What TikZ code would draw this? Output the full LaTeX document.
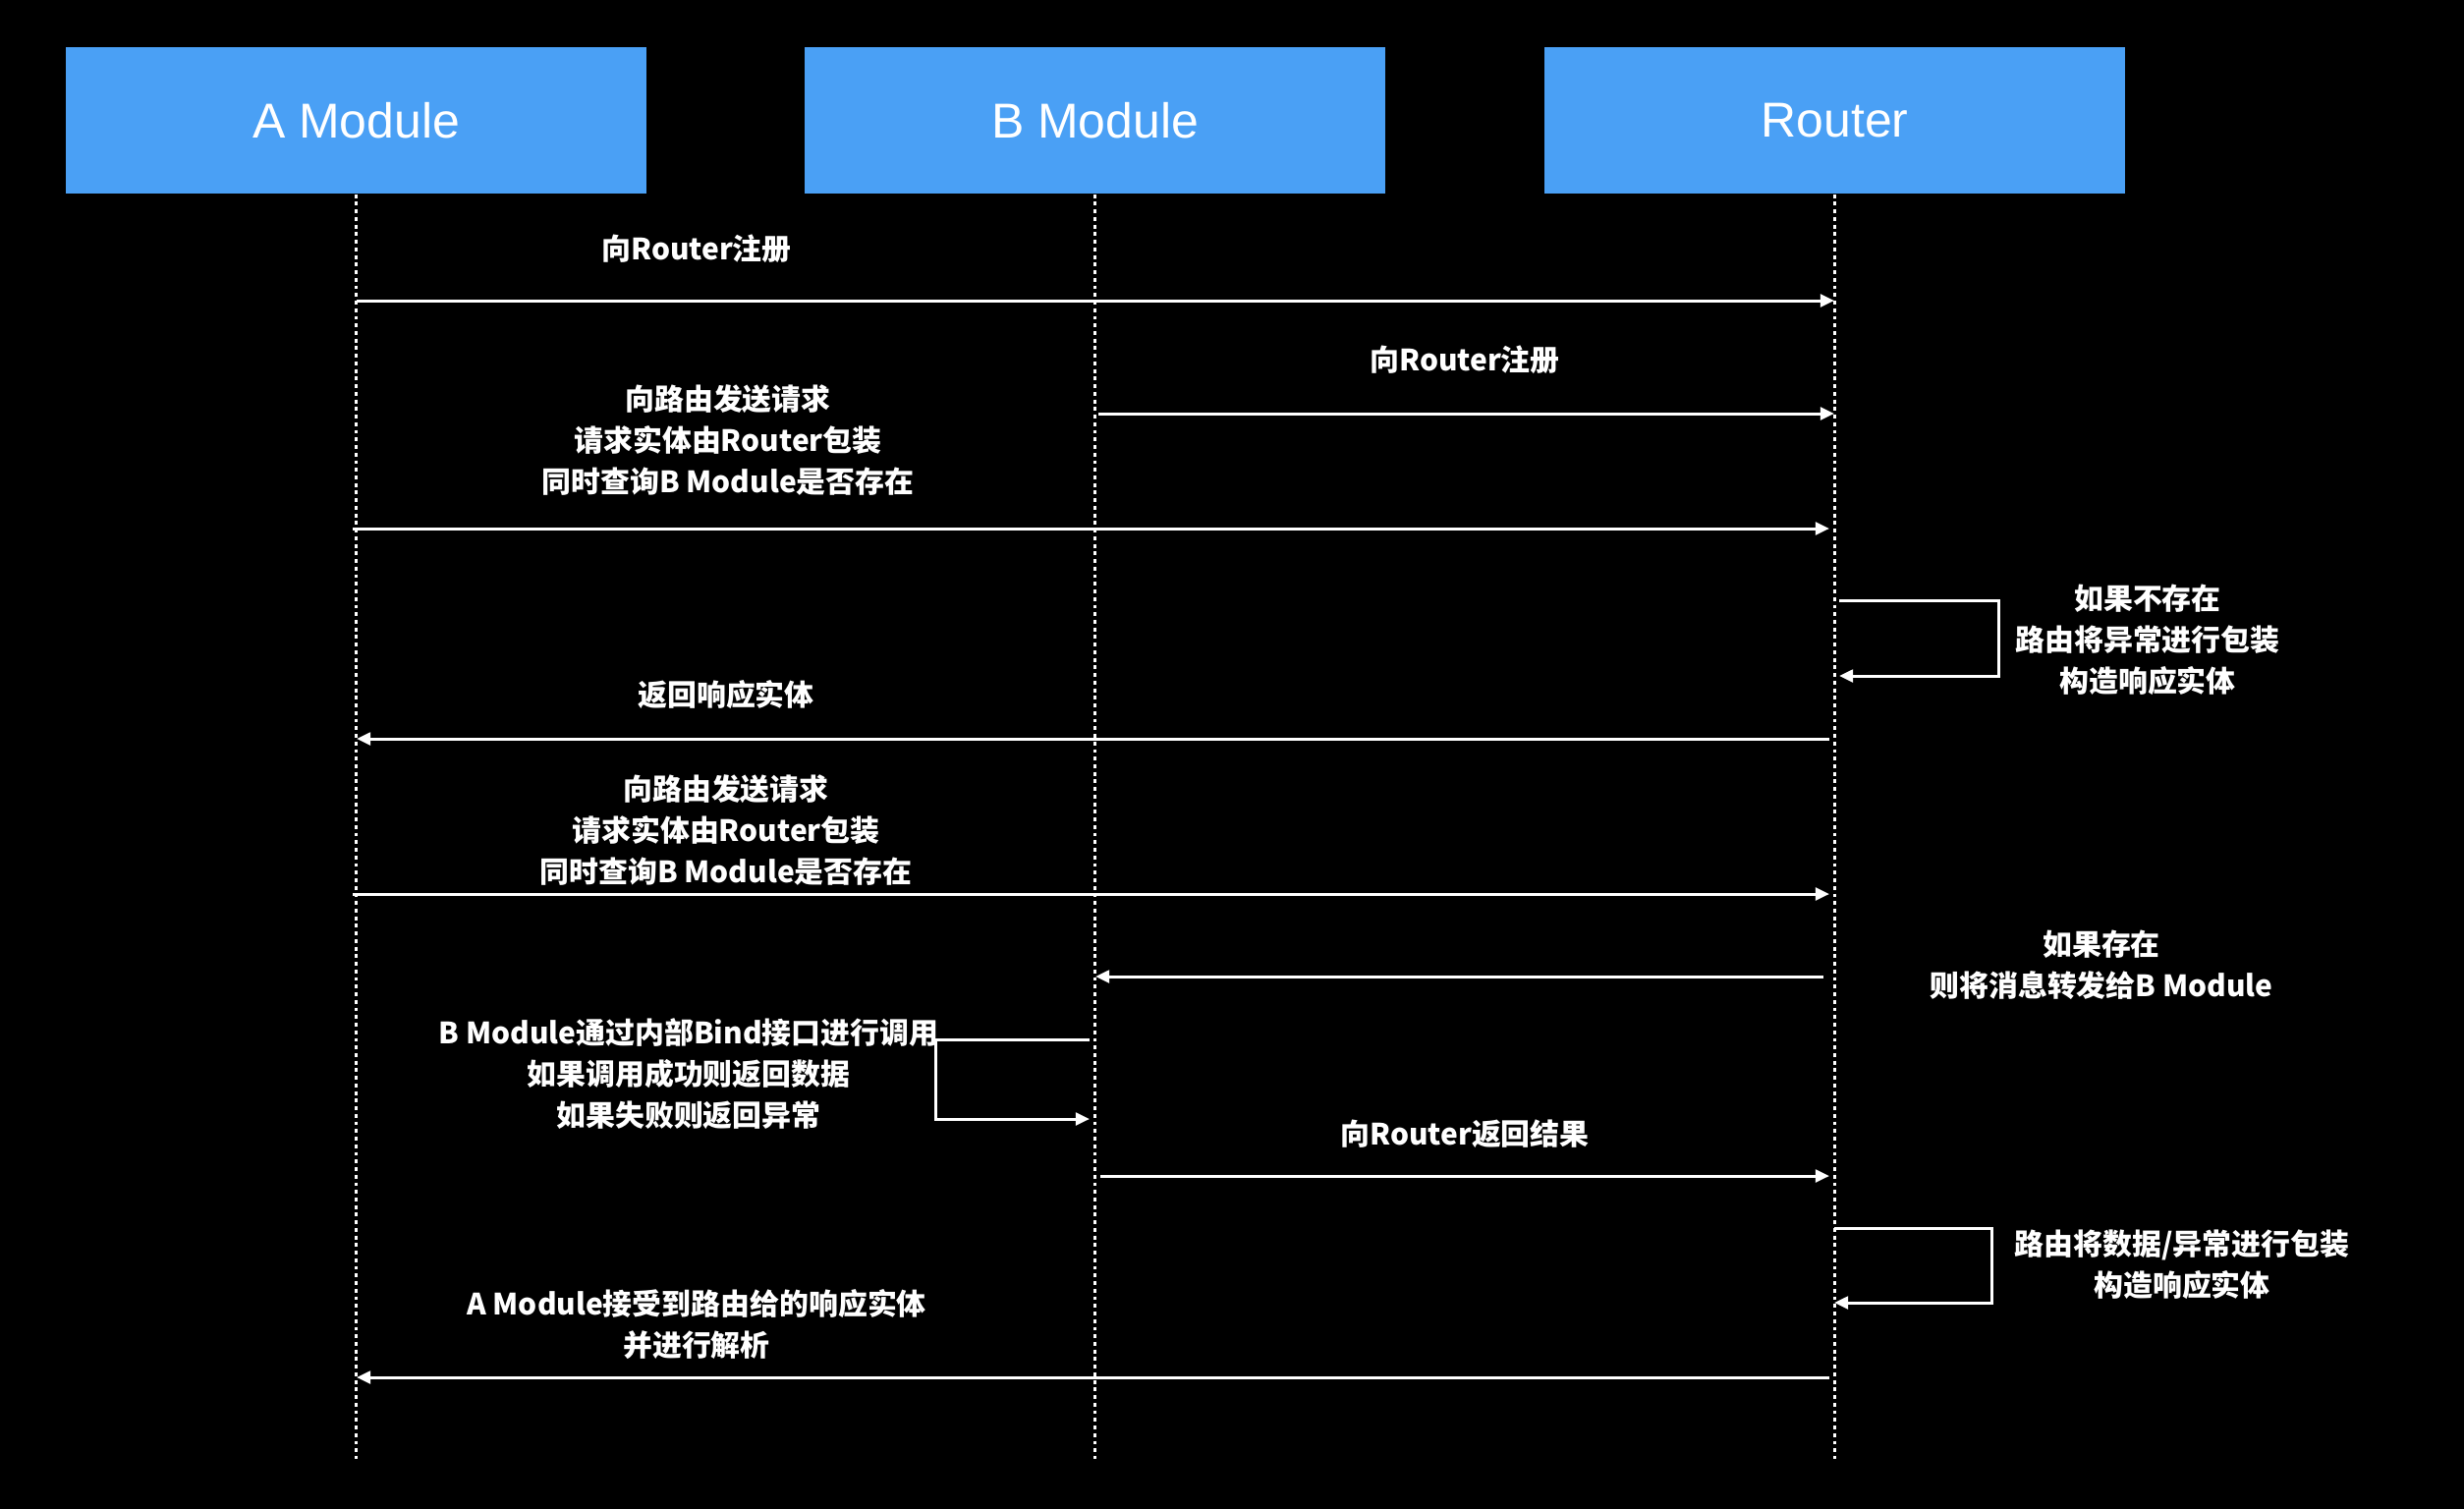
\documentclass[tikz,border=0pt]{standalone}
\usepackage{fontspec}
\usepackage{xcolor}
\usepackage{tikz}
\usetikzlibrary{arrows.meta}
\newfontfamily\cjk{Noto Sans CJK SC}
\newfontfamily\headfont{Liberation Sans}
\definecolor{modblue}{RGB}{74,160,245}

\tikzset{
  modbox/.style={fill=modblue, text=white, minimum width=5.91cm, minimum height=1.49cm,
    inner sep=0pt, font=\headfont\fontsize{14.2}{16}\selectfont},
  lifeline/.style={white, line width=0.6pt, dash pattern=on 1.1pt off 1.1pt},
  msg/.style={white, line width=0.85pt, -{Triangle[length=4pt,width=3.6pt]}},
  msgtext/.style={text=white, align=center, inner sep=0pt,
    font=\cjk\bfseries\fontsize{8.5}{12}\selectfont},
}

\begin{document}
\begin{tikzpicture}[x=0.01cm, y=-0.01cm]
  % background
  \fill[black] (0,0) rectangle (2508,1536);
  % modules
  \node[modbox] (amod) at (362.5,122.5) {A Module};
  \node[modbox] (bmod) at (1114.5,122.5) {B Module};
  \node[modbox] (router) at (1867.5,122.5) {Router};
  % lifelines
  \coordinate (aend) at (362.5,1485);
  \coordinate (bend) at (1114.5,1485);
  \coordinate (rend) at (1867.5,1485);
  \draw[lifeline] (amod.south) -- (aend);
  \draw[lifeline] (bmod.south) -- (bend);
  \draw[lifeline] (router.south) -- (rend);
  % A registers
  \coordinate (a1) at (363,306);
  \coordinate (r1) at (1867,306);
  \node[msgtext] (t1) at (709,253) {向Router注册};
  \draw[msg] (a1) -- (r1);
  % B registers
  \coordinate (b2) at (1118,421);
  \coordinate (r2) at (1867,421);
  \node[msgtext] (t2) at (1491,366) {向Router注册};
  \draw[msg] (b2) -- (r2);
  % first request
  \coordinate (a3) at (359,538);
  \coordinate (r3) at (1862,538);
  \node[msgtext] (t3) at (741,448) {向路由发送请求\\请求实体由Router包装\\同时查询B Module是否存在};
  \draw[msg] (a3) -- (r3);
  % not found
  \coordinate (r4s) at (1872,611);
  \coordinate (r4e) at (1872,688);
  \node[msgtext] (t4) at (2186,651) {如果不存在\\路由将异常进行包装\\构造响应实体};
  \draw[msg] (r4s) -- ++(162,0) |- (r4e);
  % response to A
  \coordinate (r5) at (1862,752);
  \coordinate (a5) at (363,752);
  \node[msgtext] (t5) at (739,707) {返回响应实体};
  \draw[msg] (r5) -- (a5);
  % second request
  \coordinate (a6) at (359,910);
  \coordinate (r6) at (1862,910);
  \node[msgtext] (t6) at (739,845) {向路由发送请求\\请求实体由Router包装\\同时查询B Module是否存在};
  \draw[msg] (a6) -- (r6);
  % forward to B
  \coordinate (r7) at (1856,994);
  \coordinate (b7) at (1115,994);
  \node[msgtext] (t7) at (2139,982) {如果存在\\则将消息转发给B Module};
  \draw[msg] (r7) -- (b7);
  % B calls itself
  \coordinate (b8s) at (1109,1058);
  \coordinate (b8e) at (1109,1139);
  \node[msgtext] (t8) at (701,1093) {B Module通过内部Bind接口进行调用\\如果调用成功则返回数据\\如果失败则返回异常};
  \draw[msg] (b8s) -- ++(-157,0) |- (b8e);
  % B returns result
  \coordinate (b9) at (1120,1197);
  \coordinate (r9) at (1862,1197);
  \node[msgtext] (t9) at (1491,1154) {向Router返回结果};
  \draw[msg] (b9) -- (r9);
  % router wraps result
  \coordinate (r10s) at (1867,1250);
  \coordinate (r10e) at (1867,1326);
  \node[msgtext] (t10) at (2221,1287) {路由将数据/异常进行包装\\构造响应实体};
  \draw[msg] (r10s) -- ++(160,0) |- (r10e);
  % final response
  \coordinate (r11) at (1862,1402);
  \coordinate (a11) at (363,1402);
  \node[msgtext] (t11) at (709,1348) {A Module接受到路由给的响应实体\\并进行解析};
  \draw[msg] (r11) -- (a11);
\end{tikzpicture}
\end{document}
